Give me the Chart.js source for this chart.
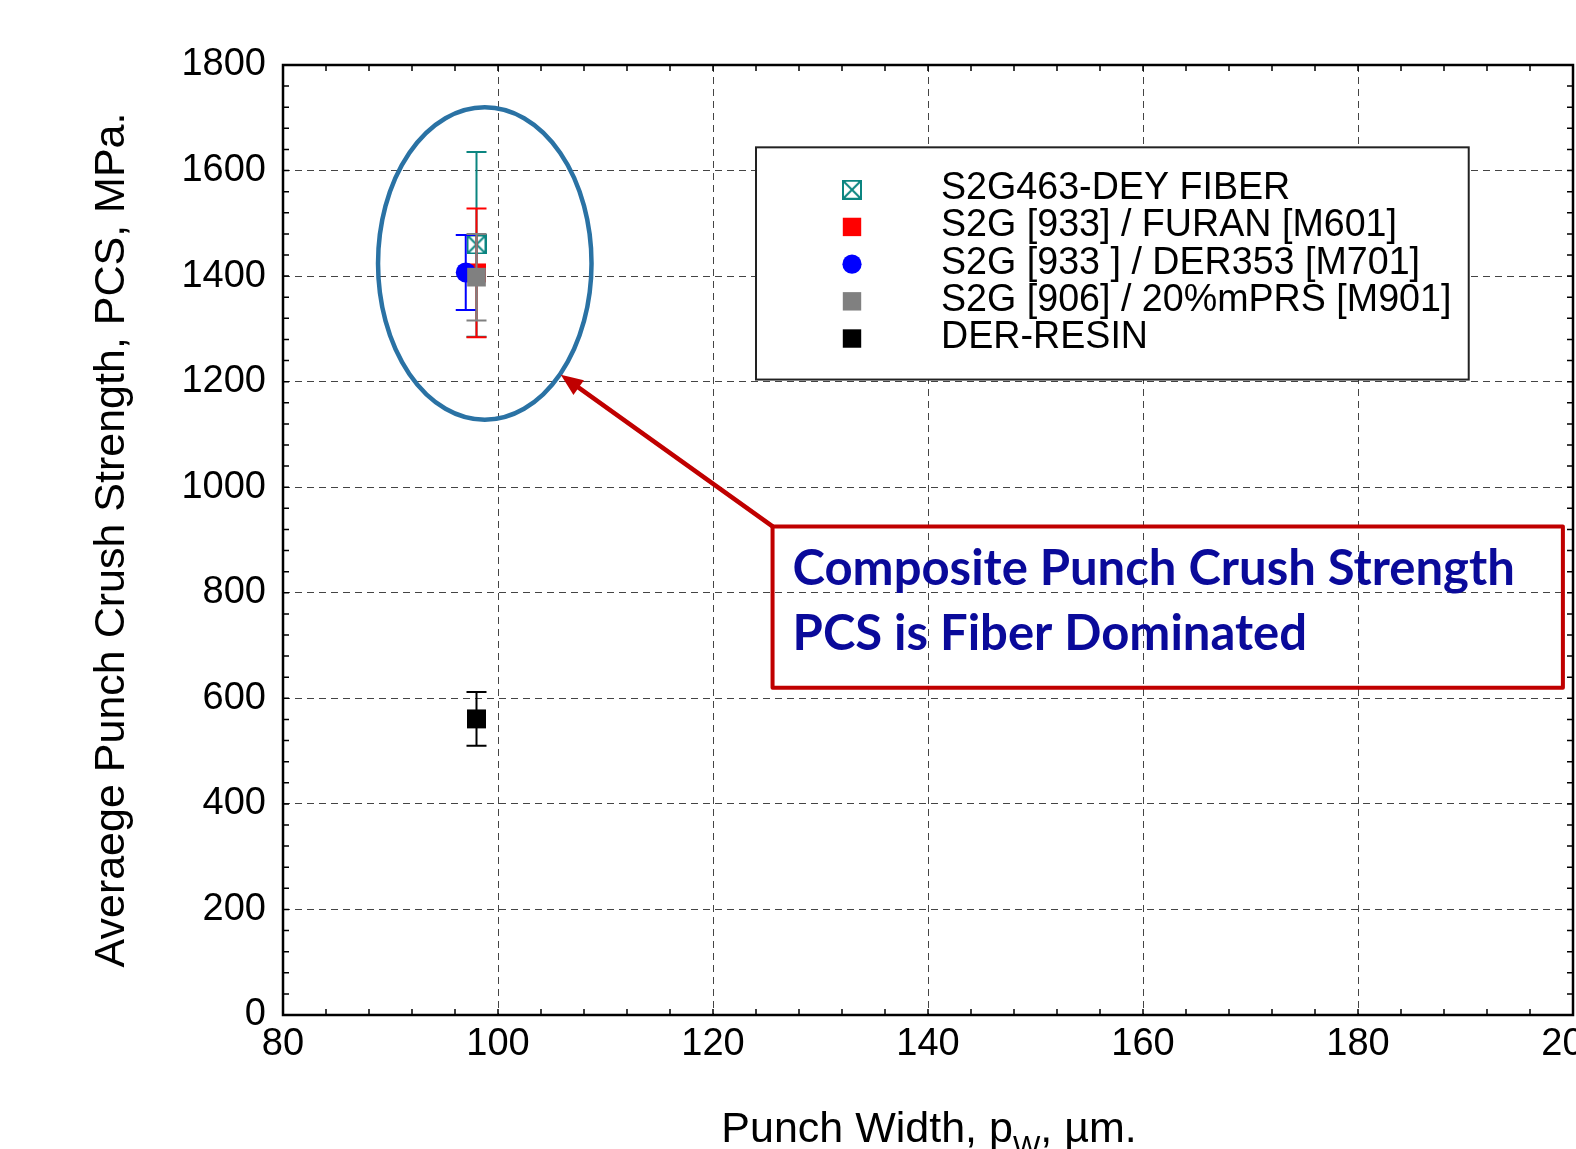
<!DOCTYPE html>
<html>
<head>
<meta charset="utf-8">
<script src="https://cdn.jsdelivr.net/npm/chart.js@4.4.1/dist/chart.umd.min.js"></script>
<style>
  html, body { margin: 0; padding: 0; background: #fff; overflow: hidden; }
  #wrap { width: 1576px; height: 1149px; }
</style>
</head>
<body>
<div id="wrap"><canvas id="pcsChart" width="1576" height="1149"></canvas></div>
<script>
// series
const seriesNames = [
  "S2G463-DEY FIBER",
  "S2G [933] / FURAN [M601]",
  "S2G [933 ] / DER353 [M701]",
  "S2G [906] / 20%mPRS [M901]",
  "DER-RESIN"
];
const punchWidth = [98, 98, 97, 98, 98];
const pcsMean = [1460, 1406, 1407, 1398, 561];
const pcsError = [175, 122, 71, 82, 51];
const seriesColors = ["#0b8580", "#ff0000", "#0000ff", "#808080", "#000000"];

// axes
const xTicks = [80, 100, 120, 140, 160, 180, 200];
const yTicks = [0, 200, 400, 600, 800, 1000, 1200, 1400, 1600, 1800];
const xMinorStep = 4;
const yMinorStep = 40;
const xTitleParts = ["Punch Width, p", "W", ", \u00b5m."];
const yTitle = "Averaege Punch Crush Strength, PCS, MPa.";
const noteLines = ["Composite Punch Crush Strength", "PCS is Fiber Dominated"];

const FONT = "'Liberation Sans', Arial, sans-serif";
Chart.defaults.font.family = FONT;

// annotation placement, in axis units
const ellipseSpec = { cx: 98.77, cy: 1424, rx: 9.93, ry: 296 };
const noteBox = { x0: 125.54, x1: 199.06, y0: 925.7, y1: 619.9 };
const arrowTip = { x: 105.84, y: 1213 };
const legendBox = { x0: 124.0, x1: 190.3, y0: 1644, y1: 1204 };

function boxCross(color, size) {
  const c = document.createElement('canvas');
  c.width = c.height = size;
  const g = c.getContext('2d');
  g.strokeStyle = color;
  g.lineWidth = 2;
  g.strokeRect(1, 1, size - 2, size - 2);
  g.beginPath();
  g.moveTo(1, 1); g.lineTo(size - 1, size - 1);
  g.moveTo(size - 1, 1); g.lineTo(1, size - 1);
  g.stroke();
  return c;
}
const tealMark = boxCross(seriesColors[0], 20);
const pointStyles = [tealMark, 'rect', 'circle', 'rect', 'rect'];
const pointSizes = [10, 13.4, 10, 13.2, 13.4];

const datasets = seriesNames.map((name, i) => ({
  label: name,
  data: [{ x: punchWidth[i], y: pcsMean[i] }],
  pointStyle: pointStyles[i],
  pointRadius: pointSizes[i],
  backgroundColor: seriesColors[i],
  borderColor: seriesColors[i],
  borderWidth: 0,
  order: seriesNames.length - i
}));

const frame = {
  id: 'frame',
  beforeDatasetsDraw(chart) {
    const { ctx, chartArea: a, scales: { x, y } } = chart;
    ctx.save();
    ctx.strokeStyle = '#000';
    ctx.lineWidth = 1.5;
    ctx.beginPath();
    for (let v = x.min + xMinorStep; v < x.max; v += xMinorStep) {
      const p = x.getPixelForValue(v);
      ctx.moveTo(p, a.bottom); ctx.lineTo(p, a.bottom - 6);
      ctx.moveTo(p, a.top); ctx.lineTo(p, a.top + 6);
    }
    for (let v = y.min + yMinorStep; v < y.max; v += yMinorStep) {
      const p = y.getPixelForValue(v);
      ctx.moveTo(a.left, p); ctx.lineTo(a.left + 6, p);
      ctx.moveTo(a.right, p); ctx.lineTo(a.right - 6, p);
    }
    ctx.stroke();
    ctx.lineWidth = 2.5;
    ctx.strokeRect(a.left, a.top, a.right - a.left, a.bottom - a.top);
    ctx.restore();
  }
};

const errorBars = {
  id: 'errorBars',
  beforeDatasetDraw(chart, args) {
    const i = args.index;
    const { ctx, scales: { x, y } } = chart;
    const px = x.getPixelForValue(punchWidth[i]);
    const top = y.getPixelForValue(pcsMean[i] + pcsError[i]);
    const bot = y.getPixelForValue(pcsMean[i] - pcsError[i]);
    ctx.save();
    ctx.strokeStyle = seriesColors[i];
    ctx.lineWidth = 2;
    ctx.beginPath();
    ctx.moveTo(px, top); ctx.lineTo(px, bot);
    ctx.moveTo(px - 10, top); ctx.lineTo(px + 10, top);
    ctx.moveTo(px - 10, bot); ctx.lineTo(px + 10, bot);
    ctx.stroke();
    ctx.restore();
  }
};

const annotations = {
  id: 'annotations',
  afterDatasetsDraw(chart) {
    const { ctx, scales: { x, y } } = chart;
    ctx.save();

    // ellipse round the fibre group
    ctx.strokeStyle = '#2a72a4';
    ctx.lineWidth = 4.5;
    ctx.beginPath();
    ctx.ellipse(x.getPixelForValue(ellipseSpec.cx), y.getPixelForValue(ellipseSpec.cy),
      x.getPixelForValue(ellipseSpec.cx + ellipseSpec.rx) - x.getPixelForValue(ellipseSpec.cx),
      y.getPixelForValue(ellipseSpec.cy) - y.getPixelForValue(ellipseSpec.cy + ellipseSpec.ry),
      0, 0, Math.PI * 2);
    ctx.stroke();

    // note box
    const bx0 = x.getPixelForValue(noteBox.x0), bx1 = x.getPixelForValue(noteBox.x1);
    const by0 = y.getPixelForValue(noteBox.y0), by1 = y.getPixelForValue(noteBox.y1);
    ctx.strokeStyle = '#c00000';
    ctx.lineWidth = 4;
    ctx.lineJoin = 'round';
    ctx.strokeRect(bx0, by0, bx1 - bx0, by1 - by0);
    ctx.fillStyle = '#0a0a9a';
    ctx.font = "bold 49px Lato, 'Open Sans', sans-serif";
    ctx.textBaseline = 'alphabetic';
    ctx.textAlign = 'left';
    ctx.fillText(noteLines[0], bx0 + 20, by0 + 59);
    ctx.fillText(noteLines[1], bx0 + 20, by0 + 124);

    // arrow from the box corner to the ellipse
    const tx = x.getPixelForValue(arrowTip.x), ty = y.getPixelForValue(arrowTip.y);
    const ang = Math.atan2(ty - by0, tx - bx0);
    const hl = 22, hw = 9;
    const baseX = tx - hl * Math.cos(ang), baseY = ty - hl * Math.sin(ang);
    ctx.strokeStyle = '#c00000';
    ctx.fillStyle = '#c00000';
    ctx.lineWidth = 4.5;
    ctx.lineCap = 'round';
    ctx.beginPath();
    ctx.moveTo(bx0, by0);
    ctx.lineTo(baseX, baseY);
    ctx.stroke();
    ctx.beginPath();
    ctx.moveTo(tx, ty);
    ctx.lineTo(baseX + hw * Math.sin(ang), baseY - hw * Math.cos(ang));
    ctx.lineTo(baseX - hw * Math.sin(ang), baseY + hw * Math.cos(ang));
    ctx.closePath();
    ctx.fill();

    // legend
    const lx0 = x.getPixelForValue(legendBox.x0), lx1 = x.getPixelForValue(legendBox.x1);
    const ly0 = y.getPixelForValue(legendBox.y0), ly1 = y.getPixelForValue(legendBox.y1);
    ctx.fillStyle = '#fff';
    ctx.fillRect(lx0, ly0, lx1 - lx0, ly1 - ly0);
    ctx.strokeStyle = '#222';
    ctx.lineWidth = 2;
    ctx.lineJoin = 'miter';
    ctx.strokeRect(lx0, ly0, lx1 - lx0, ly1 - ly0);
    ctx.font = '39px ' + FONT;
    seriesNames.forEach((name, i) => {
      const cy = ly0 + 42.4 + i * 37.2;
      const mx = lx0 + 96;
      if (i === 0) {
        ctx.drawImage(tealMark, mx - 10, cy - 10);
      } else if (pointStyles[i] === 'circle') {
        ctx.fillStyle = seriesColors[i];
        ctx.beginPath();
        ctx.arc(mx, cy, 9.6, 0, Math.PI * 2);
        ctx.fill();
      } else {
        ctx.fillStyle = seriesColors[i];
        ctx.fillRect(mx - 9.2, cy - 9.2, 18.4, 18.4);
      }
      ctx.save();
      ctx.translate(lx0 + 185, cy + 9.5);
      ctx.scale(0.965, 1);
      ctx.fillStyle = '#000';
      ctx.fillText(name, 0, 0);
      ctx.restore();
    });
    ctx.restore();
  },
  afterDraw(chart) {
    // x axis title with subscript
    const { ctx, chartArea: a } = chart;
    ctx.save();
    ctx.fillStyle = '#000';
    ctx.textBaseline = 'alphabetic';
    const big = '43px ' + FONT, small = '29px ' + FONT;
    ctx.font = big;
    const w0 = ctx.measureText(xTitleParts[0]).width;
    const w2 = ctx.measureText(xTitleParts[2]).width;
    ctx.font = small;
    const w1 = ctx.measureText(xTitleParts[1]).width;
    const total = w0 + w1 + w2;
    const sx = (a.left + a.right) / 2 + 1 - total / 2;
    const base = 1142;
    ctx.font = big;
    ctx.fillText(xTitleParts[0], sx, base);
    ctx.font = small;
    ctx.fillText(xTitleParts[1], sx + w0, base + 14);
    ctx.font = big;
    ctx.fillText(xTitleParts[2], sx + w0 + w1, base);
    ctx.restore();
  }
};

new Chart(document.getElementById('pcsChart'), {
  type: 'scatter',
  data: { datasets },
  options: {
    responsive: false,
    animation: false,
    events: [],
    layout: { autoPadding: false, padding: { top: 65, right: 3, left: 0, bottom: 0 } },
    plugins: { legend: { display: false }, tooltip: { enabled: false } },
    scales: {
      x: {
        type: 'linear',
        min: xTicks[0],
        max: xTicks[xTicks.length - 1],
        afterBuildTicks: s => { s.ticks = xTicks.map(v => ({ value: v })); },
        afterFit: s => { s.height = 134; s.paddingLeft = 0; s.paddingRight = 0; },
        grid: { color: '#444', lineWidth: 1, drawTicks: false },
        border: { display: false, dash: [7, 5] },
        ticks: { color: '#000', font: { size: 38 }, padding: 7, maxRotation: 0, autoSkip: false,
                 callback: v => String(v) }
      },
      y: {
        type: 'linear',
        min: yTicks[0],
        max: yTicks[yTicks.length - 1],
        afterBuildTicks: s => { s.ticks = yTicks.map(v => ({ value: v })); },
        afterFit: s => { s.width = 283; },
        grid: { color: '#444', lineWidth: 1, drawTicks: false },
        border: { display: false, dash: [7, 5] },
        ticks: { color: '#000', font: { size: 38 }, padding: 17, autoSkip: false,
                 callback: v => String(v) },
        title: { display: true, text: yTitle, color: '#000', font: { size: 43 }, padding: { top: 86, bottom: 0 } }
      }
    }
  },
  plugins: [frame, errorBars, annotations]
});
</script>
</body>
</html>
